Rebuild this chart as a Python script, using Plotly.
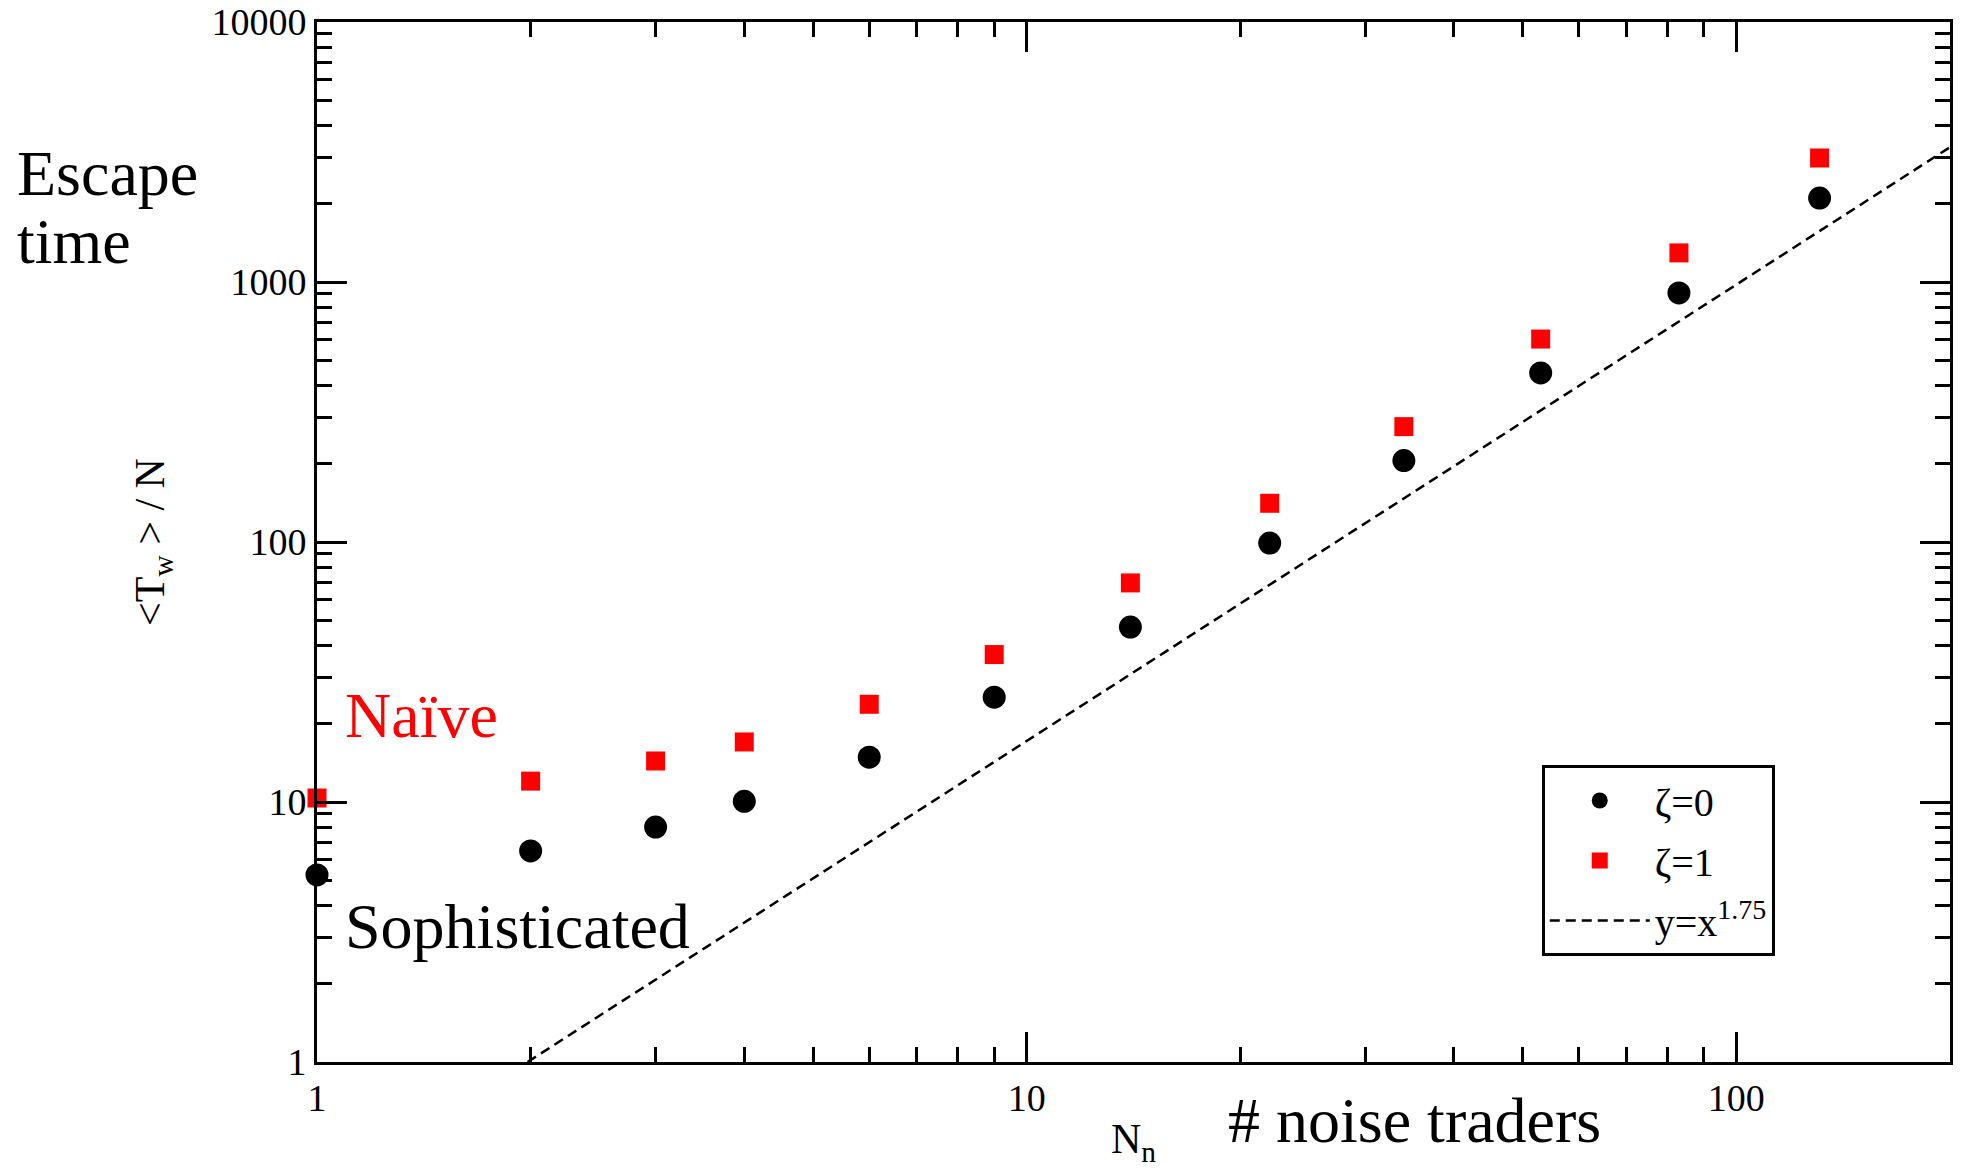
import plotly.graph_objects as go

# Data
n_noise = [1, 2, 3, 4, 6, 9, 14, 22, 34, 53, 83, 131]
tw_zeta0 = [5.24, 6.48, 8.01, 10.06, 14.87, 25.3, 47.1, 99.1, 205.6, 446.9, 907.6, 2104]
tw_zeta1 = [10.36, 12.03, 14.38, 17.02, 23.76, 36.9, 69.6, 140.9, 277.8, 603.3, 1294, 2999]
guide_x = [1.98, 200]
guide_y = [1.0, 3300]

x_tickvals = [1, 10, 100]
x_ticktext = ["1", "10", "100"]
y_tickvals = [1, 10, 100, 1000, 10000]
y_ticktext = ["1", "10", "100", "1000", "10000"]

FONT = "Liberation Serif"

fig = go.Figure()
fig.add_trace(go.Scatter(
    x=n_noise, y=tw_zeta0, mode="markers", name="ζ=0", legendgroup="a",
    marker=dict(symbol="circle", size=23, color="black"),
    cliponaxis=False,
))
fig.add_trace(go.Scatter(
    x=n_noise, y=tw_zeta1, mode="markers", name="ζ=1", legendgroup="b",
    marker=dict(symbol="square", size=19, color="#ff0000"),
    cliponaxis=False,
))
fig.add_trace(go.Scatter(
    x=guide_x, y=guide_y, mode="lines", name="y=x<sup>1.75</sup>", legendgroup="c",
    line=dict(color="black", width=2.5, dash="10px,6px"),
))

axis_common = dict(
    type="log",
    automargin=False,
    showline=True, linecolor="black", linewidth=3,
    mirror="allticks",
    ticks="inside", ticklen=30, tickwidth=3, tickcolor="black",
    showgrid=False, zeroline=False,
    tickfont=dict(family=FONT, size=38, color="black"),
    minor=dict(ticks="inside", ticklen=15, tickwidth=3, tickcolor="black",
               dtick="D1", showgrid=False),
)

fig.update_xaxes(
    **axis_common,
    range=[0, 2.30103],
    tickvals=x_tickvals, ticktext=x_ticktext,
    title=dict(text="N<sub>n</sub>", font=dict(family=FONT, size=42, color="black"),
               standoff=10),
)
fig.update_yaxes(
    **axis_common,
    range=[0, 4],
    tickvals=y_tickvals, ticktext=y_ticktext,
    title=dict(text="&lt;T<sub>w</sub> &gt; / N", font=dict(family=FONT, size=42, color="black"),
               standoff=34),
)

ann_font = dict(family=FONT, size=64, color="black")
fig.add_annotation(text="Escape", xref="paper", yref="paper", x=-0.185, y=0.8544,
                   xanchor="left", yanchor="middle", showarrow=False, font=ann_font)
fig.add_annotation(text="time", xref="paper", yref="paper", x=-0.185, y=0.789,
                   xanchor="left", yanchor="middle", showarrow=False, font=ann_font)
fig.add_annotation(text="Naïve", xref="paper", yref="paper", x=0.0159, y=0.3333,
                   xanchor="left", yanchor="middle", showarrow=False,
                   font=dict(family=FONT, size=64, color="#ff0000"))
fig.add_annotation(text="Sophisticated", xref="paper", yref="paper", x=0.0159, y=0.1304,
                   xanchor="left", yanchor="middle", showarrow=False, font=ann_font)
fig.add_annotation(text="# noise traders", xref="paper", yref="paper", x=0.5566, y=-0.0562,
                   xanchor="left", yanchor="middle", showarrow=False, font=ann_font)

fig.update_layout(
    width=1962, height=1168,
    margin=dict(l=317, r=12, t=22, b=106),
    paper_bgcolor="white", plot_bgcolor="white",
    showlegend=True,
    legend=dict(
        x=0.750, y=0.2856, xanchor="left", yanchor="top",
        bordercolor="black", borderwidth=3, bgcolor="white",
        font=dict(family=FONT, size=40, color="black"),
        traceorder="grouped", tracegroupgap=5,
        itemwidth=100,
        entrywidth=140, entrywidthmode="pixels",
    ),
)

fig.write_html("out.html")
